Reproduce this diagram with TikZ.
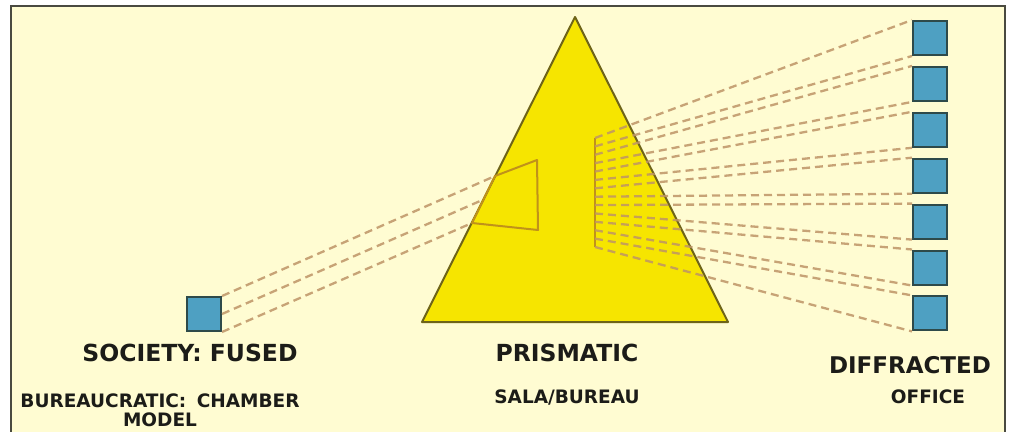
\documentclass[tikz,border=0pt]{standalone}
\usepackage{fontspec}
\setmainfont{DejaVu Sans}
\usetikzlibrary{positioning}

\definecolor{paper}{HTML}{FFFCD2}
\definecolor{framegray}{HTML}{4A4A40}
\definecolor{prismfill}{HTML}{F6E500}
\definecolor{prismedge}{HTML}{6E6418}
\definecolor{beamcol}{HTML}{C0921A}
\definecolor{raycol}{HTML}{BE9466}
\definecolor{boxfill}{HTML}{4EA0C2}
\definecolor{boxedge}{HTML}{2E4A4A}
\definecolor{inkcol}{HTML}{1C1C18}

\tikzset{
  cellbox/.style={draw=boxedge, fill=boxfill, line width=2pt, minimum size=34pt, inner sep=0pt},
  ray/.style={draw=raycol, line width=2.3pt, dash pattern=on 8pt off 5pt, opacity=0.85},
  beam/.style={draw=beamcol, line width=2pt, line join=round},
  bigtext/.style={font=\bfseries\fontsize{23.5}{26}\selectfont, text=inkcol, anchor=base, inner sep=0pt},
  smalltext/.style={font=\bfseries\fontsize{18.5}{20}\selectfont, text=inkcol, anchor=base, inner sep=0pt},
}

\begin{document}
\begin{tikzpicture}[x=1pt, y=-1pt]
  \useasboundingbox (0,0) rectangle (1009,431);
  \fill[white] (0,0) rectangle (1009,431);
  % frame, its lower edge runs off the page
  \filldraw[fill=paper, draw=framegray, line width=2pt] (11,6) rectangle (1005,445);

  % the prism
  \coordinate (apex) at (575,17);
  \coordinate (baseL) at (422,322);
  \coordinate (baseR) at (728,322);
  \filldraw[fill=prismfill, draw=prismedge, line width=2pt, line join=round]
    (apex) -- (baseR) -- (baseL) -- cycle;

  % light entering the prism
  \coordinate (inTop) at (495,176);
  \coordinate (inMid) at (483.5,199.5);
  \coordinate (inBot) at (472,223);
  \draw[beam] (inTop) -- (537,160) -- (538,230) -- (inBot) -- cycle;

  % fan of diffracted rays
  \coordinate (fanTop) at (595,138);
  \coordinate (fanBot) at (595,247);
  \draw[beam] (fanTop) -- (fanBot);
  \foreach \k in {1,...,14}
    \coordinate (f\k) at (595, {138 + (\k-1)*109/13});

  % boxes
  \node[cellbox] (fused) at (204,314) {};
  \foreach \i in {1,...,7}
    \node[cellbox] (office\i) at (930, {38 + (\i-1)*45.9}) {};

  \draw[ray] (fused.north east) -- (inTop);
  \draw[ray] (fused.east) -- (inMid);
  \draw[ray] (fused.south east) -- (inBot);
  \foreach \i [evaluate=\i as \a using int(2*\i-1), evaluate=\i as \b using int(2*\i)] in {1,...,7} {
    \draw[ray] (f\a) -- (office\i.north west);
    \draw[ray] (f\b) -- (office\i.south west);
  }

  % labels
  \node[bigtext] (fusedlbl) at (190,361.5) {SOCIETY: FUSED};
  \node[bigtext] (prismlbl) at (567,361.5) {PRISMATIC};
  \node[bigtext, font=\bfseries\fontsize{23}{26}\selectfont] (difflbl) at (910,373.5) {DIFFRACTED};
  \node[smalltext] (chamber) at (160,407) {BUREAUCRATIC:\hspace{4pt} CHAMBER};
  \node[smalltext] (model) at (160,426) {MODEL};
  \node[smalltext] (sala) at (567,403) {SALA/BUREAU};
  \node[smalltext] (office) at (928,403) {OFFICE};
\end{tikzpicture}
\end{document}
